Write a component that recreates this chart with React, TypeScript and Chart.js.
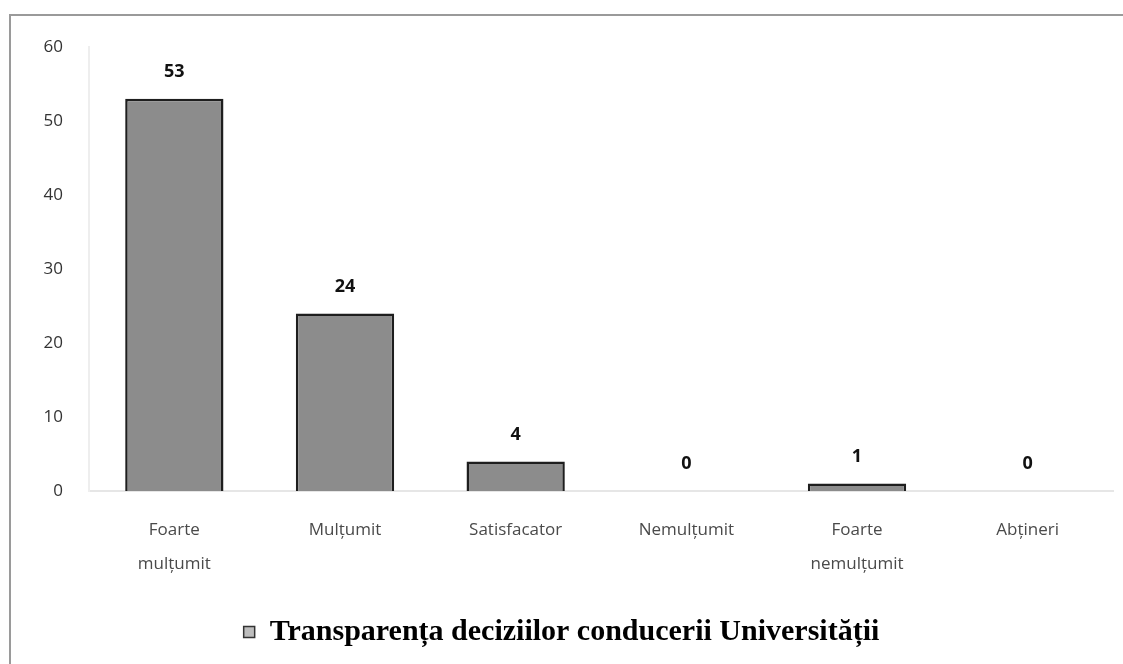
import React, { useEffect, useRef } from "react";
import { Chart, registerables } from "chart.js";

Chart.register(...registerables);

const categories: (string | string[])[] = [
  ["Foarte", "mulțumit"],
  "Mulțumit",
  "Satisfacator",
  "Nemulțumit",
  ["Foarte", "nemulțumit"],
  "Abțineri",
];
const seriesLabel = "Transparența deciziilor conducerii Universității";
const values = [53, 24, 4, 0, 1, 0];
const yTicks = [0, 10, 20, 30, 40, 50, 60];

const W = 1123;
const H = 664;

export default function App() {
  const ref = useRef<HTMLCanvasElement | null>(null);
  useEffect(() => {
    document.body.style.margin = "0";
    const canvas = ref.current!;
    const framePlugin = {
      id: "frame",
      beforeDraw(chart: any) {
        const ctx = chart.ctx;
        ctx.save();
        ctx.fillStyle = "#ffffff";
        ctx.fillRect(0, 0, chart.width, chart.height);
        ctx.strokeStyle = "#9a9a9a";
        ctx.lineWidth = 2;
        ctx.beginPath();
        ctx.moveTo(10, chart.height);
        ctx.lineTo(10, 15);
        ctx.lineTo(chart.width, 15);
        ctx.stroke();
        ctx.restore();
      },
    };
    const labelPlugin = {
      id: "valueLabels",
      afterDatasetsDraw(chart: any) {
        const ctx = chart.ctx;
        const meta = chart.getDatasetMeta(0);
        ctx.save();
        ctx.fillStyle = "#111";
        ctx.font = "bold 18px 'Open Sans', sans-serif";
        ctx.textAlign = "center";
        ctx.textBaseline = "middle";
        meta.data.forEach((bar: any, i: number) => {
          ctx.fillText(String(values[i]), bar.x, bar.y - 27);
        });
        ctx.restore();
      },
    };
    const chart = new Chart(canvas, {
      type: "bar",
      data: {
        labels: categories,
        datasets: [
          {
            label: seriesLabel,
            data: values,
            backgroundColor: "#8c8c8c",
            borderColor: "#1e1e1e",
            borderWidth: 2.5,
            barPercentage: 0.6,
            categoryPercentage: 0.96,
          },
        ],
      },
      options: {
        animation: false,
        responsive: false,
        layout: { padding: { left: 10, right: 10, top: 47, bottom: 7 } },
        plugins: {
          legend: {
            position: "bottom",
            labels: {
              color: "#111",
              font: { family: "'Liberation Serif', 'DejaVu Serif', serif", size: 30, weight: "bold" },
              boxWidth: 11,
              boxHeight: 11,
              padding: 10,
              generateLabels: () => [
                {
                  text: seriesLabel,
                  fillStyle: "#bdbdbd",
                  strokeStyle: "#333",
                  lineWidth: 1.5,
                  hidden: false,
                  datasetIndex: 0,
                },
              ],
            },
          },
          tooltip: { enabled: false },
        },
        scales: {
          x: {
            grid: { display: false, drawTicks: false },
            border: { display: true, color: "#e6e6e6", width: 2 },
            ticks: {
              color: "#4a4a4a",
              font: { family: "'Open Sans', sans-serif", size: 17, lineHeight: 2 },
              padding: 22,
              maxRotation: 0,
              autoSkip: false,
            },
            afterFit(scale: any) {
              scale.height = H - 7 - 50 - 491;
            },
          },
          y: {
            min: 0,
            max: 60,
            afterBuildTicks(scale: any) {
              scale.ticks = yTicks.map((v) => ({ value: v }));
            },
            grid: { display: false, drawTicks: false },
            border: { display: true, color: "#eeeeee", width: 2 },
            ticks: {
              color: "#333",
              font: { family: "'Open Sans', sans-serif", size: 17 },
              padding: 26,
            },
            afterFit(scale: any) {
              scale.width = 79;
            },
          },
        },
      },
      plugins: [framePlugin, labelPlugin],
    } as any);
    return () => chart.destroy();
  }, []);
  return (
    <div style={{ width: W, height: H, position: "relative" }}>
      <canvas ref={ref} width={W} height={H} style={{ display: "block", width: W, height: H }} />
    </div>
  );
}
